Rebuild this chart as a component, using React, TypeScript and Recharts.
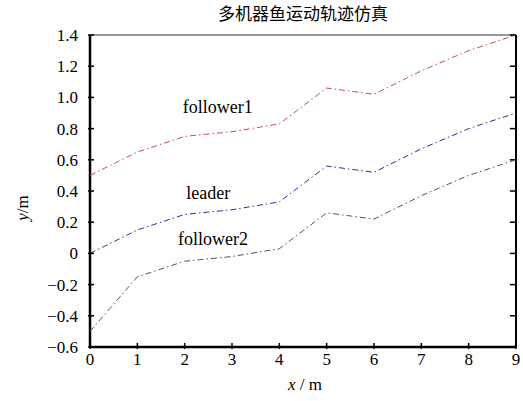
import React from 'react';
import {
    LineChart,
    Line,
    XAxis,
    YAxis,
    ReferenceDot,
    ReferenceLine,
    Label,
} from 'recharts';

const xs = [0, 1, 2, 3, 4, 5, 6, 7, 8, 9];
const follower1 = [0.5, 0.65, 0.75, 0.78, 0.83, 1.06, 1.02, 1.17, 1.3, 1.4];
const leader = [0.0, 0.15, 0.25, 0.28, 0.33, 0.56, 0.52, 0.67, 0.8, 0.9];
const follower2 = [-0.5, -0.15, -0.05, -0.02, 0.03, 0.26, 0.22, 0.37, 0.5, 0.6];
const yTicks = [-0.6, -0.4, -0.2, 0, 0.2, 0.4, 0.6, 0.8, 1.0, 1.2, 1.4];

const labels = [
    { text: 'follower1', x: 2.7, y: 0.94 },
    { text: 'leader', x: 2.5, y: 0.39 },
    { text: 'follower2', x: 2.6, y: 0.09 },
];

const data = xs.map((x, i) => ({ x, f1: follower1[i], ld: leader[i], f2: follower2[i] }));

const FONT = '"Liberation Serif", "Times New Roman", serif';
const DASH = '6 3 1.5 3';
const txt = { fontFamily: FONT };

const fmtY = (v: number) => (v === 0 ? '0' : v.toFixed(1).replace('-', '\u2212'));

const LeftTick = (props: any) => {
    const { x, y, payload } = props;
    return (
        <g>
            <line x1={x} y1={y} x2={x + 6} y2={y} stroke="#000" strokeWidth={1.5} />
            <text x={x - 10} y={y + 6} textAnchor="end" style={txt} fontSize={17} fill="#000">
                {fmtY(payload.value)}
            </text>
        </g>
    );
};

const BottomTick = (props: any) => {
    const { x, y, payload } = props;
    return (
        <g>
            <line x1={x} y1={y} x2={x} y2={y - 6} stroke="#000" strokeWidth={1.5} />
            <text x={x} y={y + 16} textAnchor="middle" style={txt} fontSize={17} fill="#000">
                {payload.value}
            </text>
        </g>
    );
};

const App: React.FC = () => (
    <div style={{ position: 'absolute', left: 0, top: 0, background: '#fff' }}>
        <LineChart width={523} height={401} data={data} margin={{ top: 35, right: 7, left: 0, bottom: 0 }}>
            <text x={303} y={20} textAnchor="middle" style={{ fontFamily: '"Noto Sans CJK SC", serif' }} fontSize={17} fill="#000">
                多机器鱼运动轨迹仿真
            </text>
            <XAxis
                dataKey="x"
                type="number"
                domain={[0, 9]}
                ticks={xs}
                height={54}
                tickSize={0}
                tickLine={false}
                tick={<BottomTick />}
                axisLine={false}
            >
                <Label
                    content={() => (
                        <text x={305} y={390} textAnchor="middle" style={txt} fontSize={17} fill="#000">
                            <tspan fontStyle="italic">x</tspan> / m
                        </text>
                    )}
                />
            </XAxis>
            <YAxis
                type="number"
                domain={[-0.6, 1.4]}
                ticks={yTicks}
                width={90}
                tickSize={0}
                tickLine={false}
                tick={<LeftTick />}
                axisLine={false}
            >
                <Label
                    content={() => (
                        <text
                            x={0}
                            y={0}
                            transform="translate(28,208) rotate(-90)"
                            textAnchor="middle"
                            style={txt}
                            fontSize={17}
                            fill="#000"
                        >
                            <tspan fontStyle="italic">y</tspan>/m
                        </text>
                    )}
                />
            </YAxis>
            <ReferenceLine y={1.4} stroke="#333" strokeWidth={1} />
            <ReferenceLine x={9} stroke="#000" strokeWidth={2} />
            <ReferenceLine x={0} stroke="#000" strokeWidth={2.5} />
            <ReferenceLine y={-0.6} stroke="#000" strokeWidth={2.5} />
            {yTicks.map((v) => (
                <ReferenceLine
                    key={'rt' + v}
                    segment={[{ x: 9, y: v }, { x: 8.87, y: v }]}
                    stroke="#000"
                    strokeWidth={1.5}
                />
            ))}
            <Line type="linear" dataKey="f1" stroke="#c0504d" strokeWidth={1} strokeDasharray={DASH} dot={false} isAnimationActive={false} />
            <Line type="linear" dataKey="ld" stroke="#2f2f9a" strokeWidth={1} strokeDasharray={DASH} dot={false} isAnimationActive={false} />
            <Line type="linear" dataKey="f2" stroke="#555555" strokeWidth={1} strokeDasharray={DASH} dot={false} isAnimationActive={false} />
            {labels.map((l) => (
                <ReferenceDot
                    key={l.text}
                    x={l.x}
                    y={l.y}
                    r={0}
                    stroke="none"
                    fill="none"
                    label={(p: any) => (
                        <text
                            x={p.viewBox.cx ?? p.viewBox.x}
                            y={(p.viewBox.cy ?? p.viewBox.y) + 6}
                            textAnchor="middle"
                            style={txt}
                            fontSize={18}
                            fill="#000"
                        >
                            {l.text}
                        </text>
                    )}
                />
            ))}
        </LineChart>
    </div>
);

export default App;
